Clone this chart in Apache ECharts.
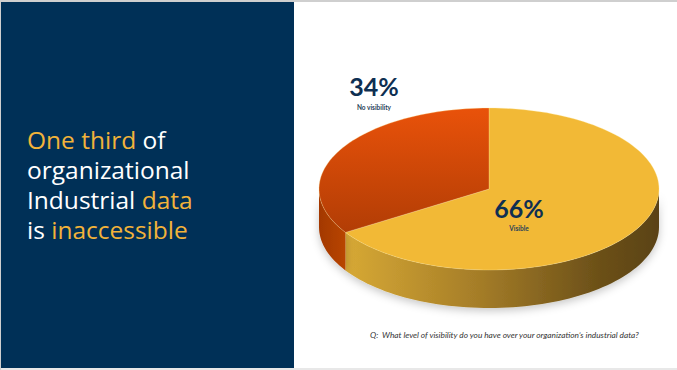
<!DOCTYPE html>
<html><head><meta charset="utf-8">
<script src="https://cdn.jsdelivr.net/npm/echarts@6/dist/echarts.min.js"></script>
<style>html,body{margin:0;padding:0;background:#fff;overflow:hidden}#c{width:677px;height:370px}#c text{font-variant-ligatures:none}</style>
</head><body><div id="c"></div>
<script>
// ---- data ----
const categories = ['Visible', 'No visibility'];
const values = [66, 34];
const headlineLines = [
  [['One third', 'y'], [' of', 'w']],
  [['organizational', 'w']],
  [['Industrial ', 'w'], ['data', 'y']],
  [['is ', 'w'], ['inaccessible', 'y']]
];
const questionText = 'Q:  What level of visibility do you have over your organization\u2019s industrial data?';

// ---- styles / layout ----
const NAVY = '#003057', GOLD = '#F2B33A';
const geo = { cx: 489, cy: 189, rx: 170, ry: 81, depth: 38 };
const labelPos = [[519, 208, 228], [374, 86, 107]]; // x, percent y, name y
const topFill = [
  '#F2B936',
  { type: 'linear', global: true, x: 0, y: 108, x2: 0, y2: 232,
    colorStops: [{ offset: 0, color: '#E9520A' }, { offset: 1, color: '#B23D05' }] }
];
const sideFill = [
  { type: 'linear', global: true, x: 330, y: 0, x2: 659, y2: 0,
    colorStops: [{ offset: 0, color: '#DDAE36' }, { offset: 0.45, color: '#A57D28' }, { offset: 0.8, color: '#6E5219' }, { offset: 1, color: '#5A4213' }] },
  { type: 'linear', global: true, x: 319, y: 0, x2: 345, y2: 0,
    colorStops: [{ offset: 0, color: '#A33805' }, { offset: 1, color: '#B84506' }] }
];

const total = values.reduce((a, b) => a + b, 0);
function pt(t, dy) {
  const r = t * Math.PI / 180;
  return [geo.cx + geo.rx * Math.cos(r), geo.cy - geo.ry * Math.sin(r) + (dy || 0)];
}
function arc(from, to, dy) {
  const n = Math.max(2, Math.ceil(Math.abs(to - from) / 2));
  const out = [];
  for (let k = 0; k <= n; k++) out.push(pt(from + (to - from) * k / n, dy));
  return out;
}

function renderItem(params, api) {
  const i = params.dataIndex;
  let before = 0;
  for (let k = 0; k < i; k++) before += values[k];
  const v = api.value(0);
  const a0 = 90 - before / total * 360;
  const a1 = a0 - v / total * 360;
  const children = [];
  for (let k = -2; k <= 1; k++) {
    const lo = Math.max(a1, 180 + 360 * k), hi = Math.min(a0, 360 + 360 * k);
    if (hi > lo) {
      const pts = arc(lo, hi, 0).concat(arc(hi, lo, geo.depth));
      children.push({ type: 'polygon', z2: 1, shape: { points: pts },
        style: { fill: sideFill[i], shadowBlur: 8, shadowColor: 'rgba(0,0,0,0.22)', shadowOffsetY: 3 } });
    }
  }
  const topPts = [[geo.cx, geo.cy]].concat(arc(a1, a0, 0));
  children.push({ type: 'polygon', z2: 2, shape: { points: topPts },
    style: { fill: topFill[i], stroke: 'rgba(255,230,150,0.5)', lineWidth: 0.6 } });
  const lp = labelPos[i];
  children.push({ type: 'text', z2: 5, style: {
    text: Math.round(v / total * 100) + '%', x: lp[0], y: lp[1], align: 'center', verticalAlign: 'middle',
    fill: '#0E2F52', font: 'bold 25px Lato' } });
  children.push({ type: 'text', z2: 5, style: {
    text: categories[i], x: lp[0], y: lp[2], align: 'center', verticalAlign: 'middle',
    fill: '#2A3F58', font: 'bold 6.5px Lato' } });
  return { type: 'group', children: children };
}

const headlineText = headlineLines.map(l => l.map(s => '{' + s[1] + '|' + s[0] + '}').join('')).join('\n');
const HF = 'Open Sans', HS = 24.5, HL = 30;

const chart = echarts.init(document.getElementById('c'), null, { renderer: 'svg' });
chart.setOption({
  animation: false,
  graphic: [
    { type: 'rect', z: -10, shape: { x: 0, y: 0, width: 677, height: 370 }, style: { fill: '#FFFFFF' } },
    { type: 'rect', z: -9, shape: { x: 0, y: 0, width: 677, height: 2 }, style: { fill: '#CFCFCF' } },
    { type: 'rect', z: -9, shape: { x: 0, y: 368, width: 677, height: 2 }, style: { fill: '#E8E8E8' } },
    { type: 'rect', z: -9, shape: { x: 0, y: 0, width: 1, height: 370 }, style: { fill: '#CFCFCF' } },
    { type: 'rect', z: -8, shape: { x: 1, y: 2, width: 293, height: 366 }, style: { fill: NAVY } },
    { type: 'text', z: 10, x: 27, y: 124, style: {
        text: headlineText, fill: '#FFFFFF', fontFamily: HF, fontSize: HS, lineHeight: HL, verticalAlign: 'top',
        rich: {
          y: { fill: GOLD, fontSize: HS, fontFamily: HF, lineHeight: HL },
          w: { fill: '#FFFFFF', fontSize: HS, fontFamily: HF, lineHeight: HL }
        } } },
    { type: 'text', z: 10, x: 370, y: 335, style: {
        text: questionText, fill: '#333333', font: 'italic 8.3px Lato', verticalAlign: 'middle' } }
  ],
  series: [{
    type: 'custom', coordinateSystem: 'none', renderItem: renderItem,
    data: values.map(v => [v])
  }]
});
</script>
</body></html>
